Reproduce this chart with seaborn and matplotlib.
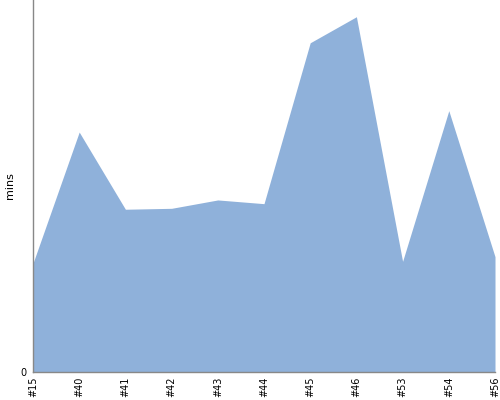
import matplotlib
matplotlib.use("Agg")
import matplotlib.pyplot as plt
import pandas as pd
import seaborn as sns

# ==========================================
# DATA
# ==========================================

builds = ["#15", "#40", "#41", "#42", "#43", "#44", "#45", "#46", "#53", "#54", "#56"]

mins = [11.7, 25.8, 17.5, 17.6, 18.5, 18.1, 35.4, 38.2, 11.9, 28.1, 12.4]

df = pd.DataFrame({"build": builds, "mins": mins})
df["pos"] = range(len(df))

sns.set_style("white")

fig = plt.figure(figsize=(5, 4), dpi=100)
ax = fig.add_axes([0.066, 0.07, 0.924, 0.93])

fill_color = "#8fb1da"

sns.lineplot(data=df, x="pos", y="mins", ax=ax, color=fill_color, linewidth=0)
ax.fill_between(df["pos"], df["mins"], color=fill_color, linewidth=0)

ax.set_xlim(0, len(df) - 1)
ax.set_ylim(0, 40)

ax.set_xticks(df["pos"])
ax.set_xticklabels(df["build"], rotation=90, fontsize=7, color="black")
ax.set_yticks([0])
ax.set_yticklabels(["0"], fontsize=7, color="black")
ax.tick_params(axis="x", length=0, pad=3)
ax.tick_params(axis="y", length=0, pad=5)

ax.set_xlabel("")
ax.set_ylabel("mins", fontsize=8, color="black")
ax.yaxis.set_label_coords(-0.038, 0.5)

for side in ["top", "right"]:
    ax.spines[side].set_visible(False)
for side in ["left", "bottom"]:
    ax.spines[side].set_color("#888888")
    ax.spines[side].set_linewidth(1)

fig.savefig("out.png", dpi=100)
plt.close(fig)
